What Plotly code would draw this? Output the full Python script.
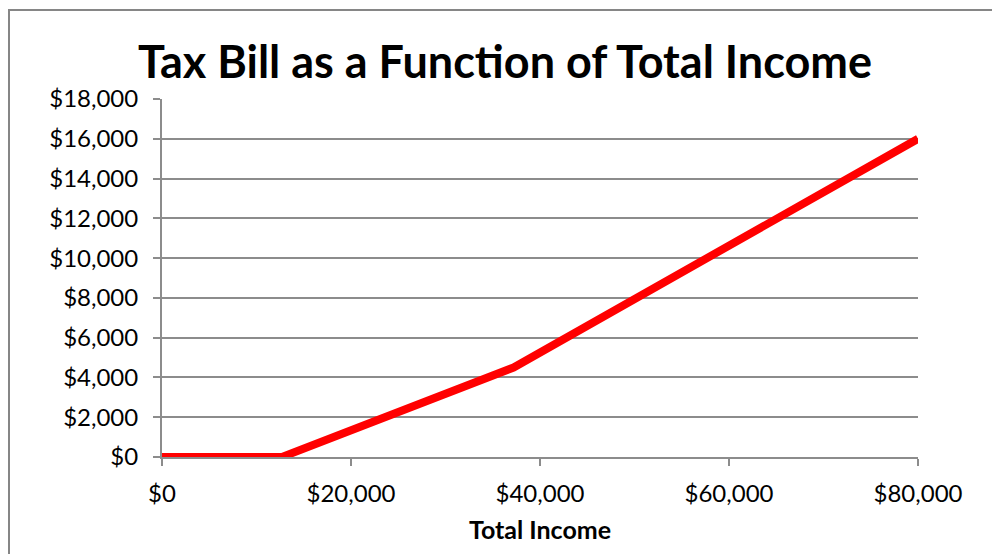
import plotly.graph_objects as go

# Tax owed at each level of total income (piecewise linear schedule)
income = [0, 12700, 37200, 80000]
tax_bill = [0, 0, 4500, 16000]

x_ticks = [0, 20000, 40000, 60000, 80000]
x_tick_labels = ["$0", "$20,000", "$40,000", "$60,000", "$80,000"]
y_ticks = list(range(0, 18001, 2000))
y_tick_labels = [f"${v:,}" for v in y_ticks]

W, H = 992, 554
L, R, T, B = 162, 74, 99, 97
pw, ph = W - L - R, H - T - B

def px_to_paper_x(px):
    return (px - L) / pw

def px_to_paper_y(py):
    return 1 + (T - py) / ph

fig = go.Figure()
fig.add_trace(go.Scatter(
    x=income, y=tax_bill, mode="lines",
    line=dict(color="#ff0000", width=8),
    hoverinfo="skip", showlegend=False,
))

grid = "#8c8c8c"
font_family = "Lato, 'Open Sans', sans-serif"

fig.update_layout(
    width=W, height=H,
    margin=dict(l=L, r=R, t=T, b=B),
    paper_bgcolor="white", plot_bgcolor="white",
    font=dict(family=font_family, color="black"),
    title=dict(
        text="<b>Tax Bill as a Function of Total Income</b>",
        x=px_to_paper_x(505), xref="paper", xanchor="center",
        y=1 - 62 / H, yref="container", yanchor="middle",
        font=dict(size=45, family=font_family, color="black"),
    ),
    xaxis=dict(
        range=[0, 80000], tickvals=x_ticks, ticktext=x_tick_labels,
        showgrid=False, zeroline=False,
        showline=True, linecolor=grid, linewidth=2,
        ticks="outside", ticklen=7, tickcolor=grid, tickwidth=2,
        tickfont=dict(size=24), ticklabelstandoff=7,
        title=dict(text="<b>Total Income</b>", font=dict(size=25), standoff=16),
        fixedrange=True,
    ),
    yaxis=dict(
        range=[0, 18000], tickvals=y_ticks, ticktext=y_tick_labels,
        showgrid=True, gridcolor=grid, gridwidth=1.5,
        zeroline=False,
        showline=True, linecolor=grid, linewidth=2,
        ticks="outside", ticklen=7, tickcolor=grid, tickwidth=2,
        tickfont=dict(size=24), ticklabelstandoff=10,
        fixedrange=True,
    ),
    shapes=[
        # chart frame (left and top edges)
        dict(type="line", xref="paper", yref="paper",
             x0=px_to_paper_x(9), x1=px_to_paper_x(9),
             y0=px_to_paper_y(9), y1=px_to_paper_y(H + 5),
             line=dict(color="#868686", width=2)),
        dict(type="line", xref="paper", yref="paper",
             x0=px_to_paper_x(8), x1=px_to_paper_x(W + 5),
             y0=px_to_paper_y(10), y1=px_to_paper_y(10),
             line=dict(color="#868686", width=2)),
    ],
)

fig.write_html("out.html", config={"displayModeBar": False})
